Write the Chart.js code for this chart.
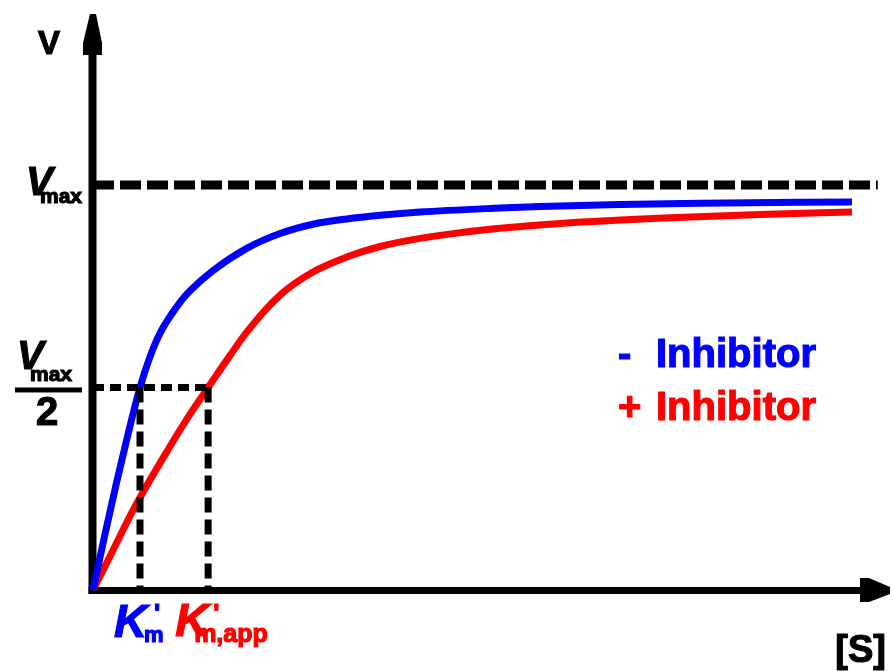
<!DOCTYPE html>
<html>
<head>
<meta charset="utf-8">
<script src="https://cdn.jsdelivr.net/npm/chart.js@4/dist/chart.umd.min.js"></script>
<style>
  html, body { margin: 0; padding: 0; background: #ffffff; }
  #wrap { width: 893px; height: 671px; }
</style>
</head>
<body>
<div id="wrap"><canvas id="mm" width="893" height="671"></canvas></div>
<script>
// Michaelis–Menten kinetics with and without a competitive inhibitor
const vmax = 1.0;          // maximal velocity
const km = 1.0;            // K'm without inhibitor
const kmApp = 2.45;        // apparent K'm with inhibitor
const sMax = 16.96;        // end of the [S] axis (arrow tip)
const vTop = 1.422;        // end of the v axis (arrow tip)
const vmaxLineEnd = 16.7;  // length of the dashed Vmax asymptote

// no inhibitor
const noInhS = [0, 0.25, 0.5, 0.75, 1.0, 1.21, 1.43, 1.85, 2.06, 2.55, 3.28, 3.98, 4.68, 5.40, 6.11, 6.96, 8.66, 9.51, 11.21, 12.91, 16.15];
const noInhV = [0, 0.135, 0.265, 0.387, 0.500, 0.575, 0.635, 0.710, 0.738, 0.788, 0.844, 0.880, 0.903, 0.916, 0.925, 0.933, 0.943, 0.947, 0.952, 0.955, 0.958];

// with inhibitor
const inhS = [0, 0.28, 0.89, 1.60, 2.11, 2.45, 2.91, 3.28, 3.98, 4.68, 5.40, 6.11, 6.96, 8.66, 9.94, 12.28, 14.19, 16.15];
const inhV = [0, 0.064, 0.205, 0.347, 0.442, 0.500, 0.578, 0.638, 0.728, 0.785, 0.822, 0.848, 0.868, 0.893, 0.905, 0.919, 0.927, 0.933];

const legendLabels = ['-', '+'];
const legendText = 'Inhibitor';

const BLUE = '#0000ff';
const RED = '#ff0000';
const FONT = "'Liberation Sans', Arial, sans-serif";

const toPoints = (xs, ys) => xs.map((x, i) => ({ x: x, y: ys[i] }));
const halfV = vmax / 2;

const dashed = (pts, width, dash) => ({
  data: pts,
  borderColor: '#000000',
  borderWidth: width,
  borderDash: dash,
  borderCapStyle: 'butt',
  pointRadius: 0,
  tension: 0,
  clip: 12,
  order: 0
});

// bold text with a thin outline in the same colour for a heavier stroke
function heavyText(ctx, txt, x, y) {
  ctx.fillText(txt, x, y);
  ctx.strokeText(txt, x, y);
}

// axes with arrowheads, drawn under the curves
const axesPlugin = {
  id: 'mmAxes',
  beforeDatasetsDraw(chart) {
    const { ctx, scales: { x, y } } = chart;
    const x0 = x.getPixelForValue(0);
    const y0 = y.getPixelForValue(0);
    const yTip = y.getPixelForValue(vTop);
    const xTip = x.getPixelForValue(sMax);
    ctx.save();
    ctx.fillStyle = '#000000';
    // vertical axis
    ctx.fillRect(x0 - 4.5, yTip + 35, 8, y0 + 4 - (yTip + 35));
    ctx.beginPath();
    ctx.moveTo(x0 - 3, yTip);
    ctx.lineTo(x0 + 3, yTip);
    ctx.lineTo(x0 + 9, yTip + 29);
    ctx.lineTo(x0 + 9, yTip + 41);
    ctx.lineTo(x0 - 10, yTip + 41);
    ctx.lineTo(x0 - 10, yTip + 29);
    ctx.closePath();
    ctx.fill();
    // horizontal axis
    ctx.fillRect(x0 - 4.5, y0 - 3, xTip - 25 - (x0 - 4.5), 7);
    ctx.beginPath();
    ctx.moveTo(xTip - 30, y0 - 12);
    ctx.lineTo(xTip - 21, y0 - 12);
    ctx.lineTo(xTip, y0 - 3);
    ctx.lineTo(xTip, y0 + 4);
    ctx.lineTo(xTip - 21, y0 + 12);
    ctx.lineTo(xTip - 30, y0 + 12);
    ctx.closePath();
    ctx.fill();
    ctx.restore();
  },
  afterDatasetsDraw(chart) {
    const { ctx, scales: { x, y } } = chart;
    const x0 = x.getPixelForValue(0);
    const y0 = y.getPixelForValue(0);
    const yV = y.getPixelForValue(vmax);
    const yH = y.getPixelForValue(halfV);
    const xTip = x.getPixelForValue(sMax);
    const xK = x.getPixelForValue(km);
    const xKa = x.getPixelForValue(kmApp);
    ctx.save();
    ctx.textBaseline = 'alphabetic';
    ctx.textAlign = 'left';
    ctx.lineWidth = 1.2;
    ctx.fillStyle = '#000000';
    ctx.strokeStyle = '#000000';

    // v axis title
    ctx.font = 'bold 33px ' + FONT;
    heavyText(ctx, 'V', x0 - 55, 54);

    // Vmax
    ctx.font = 'italic bold 40px ' + FONT;
    heavyText(ctx, 'V', x0 - 67, yV + 10);
    ctx.font = 'bold 21px ' + FONT;
    heavyText(ctx, 'max', x0 - 53, yV + 18);

    // Vmax / 2
    ctx.font = 'italic bold 40px ' + FONT;
    heavyText(ctx, 'V', x0 - 76, yH - 18);
    ctx.font = 'bold 21px ' + FONT;
    heavyText(ctx, 'max', x0 - 63, yH - 6);
    ctx.fillRect(x0 - 78, yH, 67, 5);
    ctx.font = 'bold 40px ' + FONT;
    ctx.textAlign = 'center';
    heavyText(ctx, '2', x0 - 46, yH + 38);
    ctx.textAlign = 'left';

    // K'm labels under the axis
    ctx.fillStyle = BLUE;
    ctx.strokeStyle = BLUE;
    ctx.font = 'italic bold 46px ' + FONT;
    heavyText(ctx, 'K', xK - 26, y0 + 47);
    ctx.font = 'bold 26px ' + FONT;
    heavyText(ctx, "'", xK + 14, y0 + 32);
    ctx.font = 'bold 22px ' + FONT;
    heavyText(ctx, 'm', xK + 4, y0 + 52);

    ctx.fillStyle = RED;
    ctx.strokeStyle = RED;
    ctx.font = 'italic bold 46px ' + FONT;
    heavyText(ctx, 'K', xKa - 33, y0 + 46);
    ctx.font = 'bold 26px ' + FONT;
    heavyText(ctx, "'", xKa + 5, y0 + 32);
    ctx.font = 'bold 25px ' + FONT;
    heavyText(ctx, 'm,app', xKa - 14, y0 + 52);

    // [S]
    ctx.fillStyle = '#000000';
    ctx.strokeStyle = '#000000';
    ctx.font = 'bold 38px ' + FONT;
    ctx.textAlign = 'right';
    heavyText(ctx, '[S]', xTip - 4, y0 + 72);
    ctx.textAlign = 'left';

    // series labels
    const rows = [
      { sign: legendLabels[0], color: BLUE, base: 367 },
      { sign: legendLabels[1], color: RED, base: 420 }
    ];
    rows.forEach(r => {
      ctx.fillStyle = r.color;
      ctx.strokeStyle = r.color;
      ctx.font = 'bold 40px ' + FONT;
      heavyText(ctx, r.sign, 618, r.base);
      heavyText(ctx, legendText, 656, r.base);
    });
    ctx.restore();
  }
};

new Chart(document.getElementById('mm'), {
  type: 'line',
  data: {
    datasets: [
      dashed([{ x: 0, y: vmax }, { x: vmaxLineEnd, y: vmax }], 9, [21, 6]),
      dashed([{ x: 0, y: halfV }, { x: kmApp, y: halfV }], 7, [11, 6]),
      dashed([{ x: km, y: halfV }, { x: km, y: 0 }], 7, [15, 7]),
      dashed([{ x: kmApp, y: halfV }, { x: kmApp, y: 0 }], 7, [15, 7]),
      {
        label: '- Inhibitor',
        data: toPoints(noInhS, noInhV),
        borderColor: BLUE,
        borderWidth: 7,
        borderCapStyle: 'butt',
        pointRadius: 0,
        cubicInterpolationMode: 'monotone',
        clip: 12,
        order: 1
      },
      {
        label: '+ Inhibitor',
        data: toPoints(inhS, inhV),
        borderColor: RED,
        borderWidth: 7,
        borderCapStyle: 'butt',
        pointRadius: 0,
        cubicInterpolationMode: 'monotone',
        clip: 12,
        order: 2
      }
    ]
  },
  options: {
    responsive: false,
    animation: false,
    events: [],
    layout: { padding: { left: 93, right: 3, top: 14, bottom: 81 } },
    plugins: { legend: { display: false }, tooltip: { enabled: false } },
    scales: {
      x: { type: 'linear', display: false, min: 0, max: sMax },
      y: { type: 'linear', display: false, min: 0, max: vTop }
    }
  },
  plugins: [axesPlugin]
});
</script>
</body>
</html>
